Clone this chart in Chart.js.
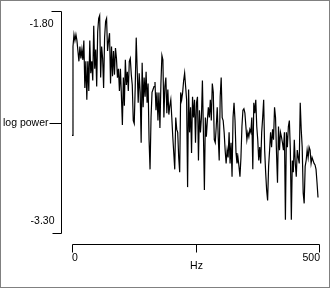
<!DOCTYPE html>
<html>
<head>
<meta charset="utf-8">
<title>log power spectrum</title>
<script src="https://cdn.jsdelivr.net/npm/chart.js@4.4.1/dist/chart.umd.min.js"></script>
<style>
  html, body { margin: 0; padding: 0; background: #fff; }
  canvas { display: block; }
</style>
</head>
<body>
<canvas id="spectrum" width="330" height="289"></canvas>
<script>
// spectrum values, one per 2 Hz bin
const logPower = [
  -2.64, -2.04, -1.96, -2.00, -1.96, -2.00, -2.07, -2.14, -2.04, -2.12,
  -2.06, -2.13, -2.00, -2.32, -2.14, -2.40, -2.14, -2.34, -2.00, -2.22,
  -2.14, -2.27, -1.90, -2.19, -2.06, -2.31, -1.94, -1.85, -1.83, -2.25,
  -2.04, -2.12, -2.32, -1.98, -1.87, -1.85, -2.07, -2.00, -1.95, -2.29,
  -2.04, -2.24, -2.07, -2.23, -2.05, -2.12, -2.25, -2.19, -2.34, -2.19,
  -2.37, -2.57, -2.25, -2.44, -2.13, -2.30, -2.21, -2.34, -2.14, -2.12,
  -2.23, -2.30, -2.54,
  -2.56, -2.31, -1.98, -2.20, -2.42, -2.22, -2.35, -2.69, -2.15, -2.45,
  -2.25, -2.38, -2.21, -2.42, -2.29, -2.67, -2.87, -2.52, -2.35, -2.33,
  -2.31, -2.28, -2.47, -2.35, -2.54, -2.35, -2.59, -2.29, -2.10, -2.13,
  -2.52, -2.31, -2.25, -2.49, -2.33, -2.50, -2.44, -2.40, -2.52, -2.65,
  -2.76, -2.87, -2.52, -2.60, -2.62, -2.79, -2.89, -2.35, -2.40, -2.35,
  -2.27, -2.22, -2.31, -2.40, -2.99, -2.33, -2.62, -2.45, -2.76, -2.38,
  -2.52, -2.40,
  -2.69, -2.42, -2.38, -2.81, -2.47, -2.62, -2.52, -2.27, -2.62, -3.01,
  -2.52, -2.65, -2.54, -2.45, -2.52, -2.40, -2.54, -2.29, -2.35, -2.67,
  -2.69, -2.58, -2.45, -2.65, -2.81, -2.38, -2.25, -2.52, -2.54, -2.62,
  -2.74, -2.83, -2.74, -2.79, -2.62, -2.83, -2.69, -2.92, -2.52, -2.42,
  -2.54, -2.76, -2.83, -2.79, -2.85, -2.92, -2.79, -2.58, -2.47, -2.46,
  -2.49, -2.58, -2.67, -2.62, -2.65, -2.60, -2.62, -2.52, -2.87, -2.42,
  -2.49, -2.40,
  -2.58, -2.67, -2.81, -2.72, -2.83, -2.62, -2.52, -2.40, -2.74, -2.89,
  -3.01, -3.08, -2.85, -2.74, -2.62, -2.72, -2.60, -2.67, -2.45, -2.52,
  -2.76, -2.96, -2.58, -2.74, -2.62, -2.65, -2.69, -2.74, -2.62, -3.21,
  -2.62, -2.72, -2.58, -2.54, -2.74, -3.21, -2.81, -2.89, -2.67, -2.83,
  -2.92, -2.74, -2.79, -2.83, -2.42, -2.60, -2.72, -3.03, -3.10, -2.85,
  -2.81, -2.74, -2.79, -2.72, -2.74, -2.83, -2.79, -2.81, -2.83, -2.84,
  -2.87, -2.96, -3.06
];
const binHz = 2;
const freqs = logPower.map((v, i) => i * binHz);

const xRange = [0, 500];
const yRange = [-3.30, -1.80];
const xTickLabels = ['0', '500'];
const yTickLabels = ['-3.30', '-1.80'];
const xTitle = 'Hz';
const yTitle = 'log power';

const font = '10.5px "Liberation Sans", Arial, sans-serif';

// axes sit away from the plot, drawn by hand from the chart's scales
const offsetAxes = {
  id: 'offsetAxes',
  afterDraw(chart) {
    const ctx = chart.ctx;
    const xs = chart.scales.x;
    const ys = chart.scales.y;

    const yTop = Math.round(ys.getPixelForValue(yRange[1])) + 0.5;
    const yBot = Math.round(ys.getPixelForValue(yRange[0])) + 0.5;
    const yMid = Math.round(ys.getPixelForValue((yRange[0] + yRange[1]) / 2)) + 1.5;
    const yAxisX = Math.round(xs.left) - 11 + 0.5;

    const x0 = Math.round(xs.getPixelForValue(xRange[0])) + 0.5;
    const x1 = Math.round(xs.getPixelForValue(xRange[1])) + 0.5;
    const xMid = Math.round(xs.getPixelForValue((xRange[0] + xRange[1]) / 2)) + 0.5;
    const xAxisY = Math.round(ys.bottom) + 11 + 0.5;

    ctx.save();

    ctx.strokeStyle = '#808080';
    ctx.lineWidth = 1;
    ctx.strokeRect(0.5, 0.5, 329, 287);

    ctx.strokeStyle = '#000';
    ctx.beginPath();
    // y axis with its three ticks
    ctx.moveTo(yAxisX, yTop);
    ctx.lineTo(yAxisX, yBot);
    ctx.moveTo(yAxisX - 10, yTop);
    ctx.lineTo(yAxisX, yTop);
    ctx.moveTo(yAxisX - 12, yMid);
    ctx.lineTo(yAxisX, yMid);
    ctx.moveTo(yAxisX - 9, yBot);
    ctx.lineTo(yAxisX, yBot);
    // x axis with its three ticks
    ctx.moveTo(x0, xAxisY);
    ctx.lineTo(x1, xAxisY);
    ctx.moveTo(x0, xAxisY);
    ctx.lineTo(x0, xAxisY + 8);
    ctx.moveTo(xMid, xAxisY);
    ctx.lineTo(xMid, xAxisY + 8);
    ctx.moveTo(x1, xAxisY);
    ctx.lineTo(x1, xAxisY + 8);
    ctx.stroke();

    ctx.fillStyle = '#000';
    ctx.font = font;
    ctx.textBaseline = 'middle';

    ctx.textAlign = 'right';
    ctx.fillText(yTickLabels[1], yAxisX - 8, yTop + 13);
    ctx.fillText(yTickLabels[0], yAxisX - 7, yBot - 12);
    ctx.fillText(yTitle, yAxisX - 13, yMid);

    ctx.textAlign = 'left';
    ctx.fillText(xTickLabels[0], x0 - 0.5, xAxisY + 14);
    ctx.textAlign = 'right';
    ctx.fillText(xTickLabels[1], x1 + 0.5, xAxisY + 14);
    ctx.textAlign = 'center';
    ctx.fillText(xTitle, xMid, xAxisY + 22);

    ctx.restore();
  }
};

new Chart(document.getElementById('spectrum'), {
  type: 'line',
  data: {
    labels: freqs,
    datasets: [{
      label: yTitle,
      data: freqs.map((f, i) => ({ x: f, y: logPower[i] })),
      borderColor: '#000',
      borderWidth: 1.2,
      pointRadius: 0,
      tension: 0,
      fill: false
    }]
  },
  options: {
    responsive: false,
    animation: false,
    devicePixelRatio: 1,
    layout: {
      padding: { left: 72, right: 11, top: 11, bottom: 56 }
    },
    plugins: {
      legend: { display: false },
      tooltip: { enabled: false }
    },
    scales: {
      x: { type: 'linear', min: xRange[0], max: xRange[1], display: false },
      y: { type: 'linear', min: yRange[0], max: yRange[1], display: false }
    }
  },
  plugins: [offsetAxes]
});
</script>
</body>
</html>
